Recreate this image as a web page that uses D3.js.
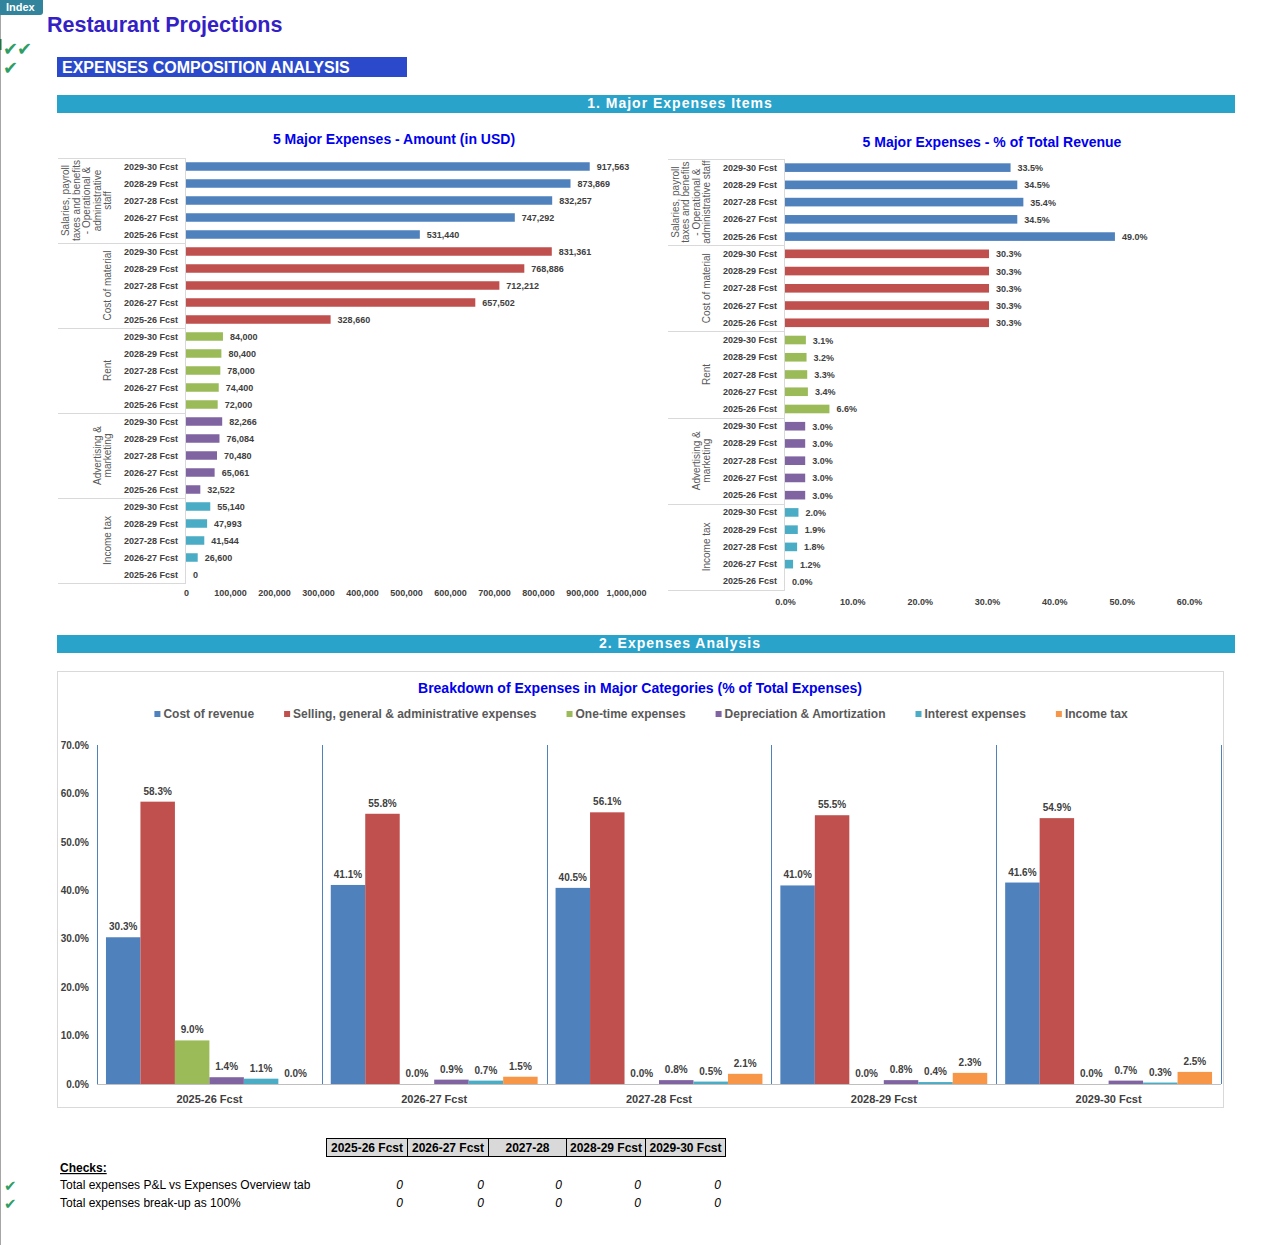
<!DOCTYPE html>
<meta charset="utf-8">
<script src="https://d3js.org/d3.v7.min.js"></script>
<style>
  body { margin: 0; background: #fff; }
  svg text { font-family: "Liberation Sans", Arial, sans-serif; }
</style>
<div id="page"></div>
<script>
// ---- data ----
var years = ["2029-30 Fcst", "2028-29 Fcst", "2027-28 Fcst", "2026-27 Fcst", "2025-26 Fcst"];
var expenseGroups = ["Salaries", "Cost of material", "Rent", "Advertising", "Income tax"];

// amounts in USD, same order as years
var amountSalaries = [917563, 873869, 832257, 747292, 531440];
var amountMaterial = [831361, 768886, 712212, 657502, 328660];
var amountRent = [84000, 80400, 78000, 74400, 72000];
var amountAdvertising = [82266, 76084, 70480, 65061, 32522];
var amountIncomeTax = [55140, 47993, 41544, 26600, 0];

// % of total revenue, same order as years
var pctSalaries = [33.5, 34.5, 35.4, 34.5, 49.0];
var pctMaterial = [30.3, 30.3, 30.3, 30.3, 30.3];
var pctRent = [3.1, 3.2, 3.3, 3.4, 6.6];
var pctAdvertising = [3.0, 3.0, 3.0, 3.0, 3.0];
var pctIncomeTax = [2.0, 1.9, 1.8, 1.2, 0.0];

var amountTicks = [0, 100000, 200000, 300000, 400000, 500000, 600000, 700000, 800000, 900000, 1000000];
var pctTicks = [0, 10, 20, 30, 40, 50, 60];

// breakdown chart (% of total expenses)
var periods = ["2025-26 Fcst", "2026-27 Fcst", "2027-28 Fcst", "2028-29 Fcst", "2029-30 Fcst"];
var seriesNames = ["Cost of revenue", "Selling, general & administrative expenses", "One-time expenses",
                   "Depreciation & Amortization", "Interest expenses", "Income tax"];
var costOfRevenue = [30.3, 41.1, 40.5, 41.0, 41.6];
var sgaExpenses = [58.3, 55.8, 56.1, 55.5, 54.9];
var oneTimeExpenses = [9.0, 0.0, 0.0, 0.0, 0.0];
var depreciation = [1.4, 0.9, 0.8, 0.8, 0.7];
var interestExpenses = [1.1, 0.7, 0.5, 0.4, 0.3];
var incomeTax = [0.0, 1.5, 2.1, 2.3, 2.5];
var breakdownTicks = [0, 10, 20, 30, 40, 50, 60, 70];

// checks table
var checkHeaders = ["2025-26 Fcst", "2026-27 Fcst", "2027-28", "2028-29 Fcst", "2029-30 Fcst"];
var checkRows = ["Total expenses P&L vs Expenses Overview tab", "Total expenses break-up as 100%"];
var checkValues = [[0, 0, 0, 0, 0], [0, 0, 0, 0, 0]];

var groupColors = ["#4F81BD", "#C0504D", "#9BBB59", "#8064A2", "#4BACC6", "#F79646"];

// ---- page ----
var W = 1279, H = 1245;
var svg = d3.select("#page").append("svg").attr("width", W).attr("height", H);

// left edge line + index tab
svg.append("line").attr("x1", 0.5).attr("x2", 0.5).attr("y1", 14).attr("y2", H)
  .attr("stroke", "#A6A6A6");
svg.append("line").attr("x1", 0.5).attr("x2", 0.5).attr("y1", 39).attr("y2", 50)
  .attr("stroke", "#217346").attr("stroke-width", 2);
svg.append("path").attr("d", "M0,0 H43 V12 Q43,15 40,15 H0 Z").attr("fill", "#31849B");
svg.append("text").attr("x", 6).attr("y", 11).attr("fill", "#fff")
  .attr("font-size", 11).attr("font-weight", "bold").text("Index");

svg.append("text").attr("x", 47).attr("y", 32).attr("fill", "#3421C6")
  .attr("font-size", 21.5).attr("font-weight", "bold").text("Restaurant Projections");

function tick(x, y, size) {
  svg.append("text").attr("x", x).attr("y", y).attr("fill", "#2E9E64")
    .attr("font-size", size)
    .style("font-family", "DejaVu Sans").text("\u2714");
}
tick(3, 55, 18); tick(17, 55, 18); tick(3, 74, 18);

svg.append("rect").attr("x", 57).attr("y", 57).attr("width", 350).attr("height", 20).attr("fill", "#2B4ACB");
svg.append("text").attr("x", 62).attr("y", 73).attr("fill", "#fff")
  .attr("font-size", 16).attr("font-weight", "bold").text("EXPENSES COMPOSITION ANALYSIS");

function sectionBar(y, label) {
  svg.append("rect").attr("x", 57).attr("y", y).attr("width", 1178).attr("height", 18).attr("fill", "#2AA3CB");
  svg.append("text").attr("x", 680).attr("y", y + 13).attr("text-anchor", "middle").attr("fill", "#fff")
    .attr("font-size", 14).attr("font-weight", "bold").attr("letter-spacing", 1).text(label);
}
sectionBar(95, "1. Major Expenses Items");
sectionBar(635, "2. Expenses Analysis");

// ---- horizontal bar charts ----
function buildRows(lists) {
  var rows = [];
  expenseGroups.forEach(function (g, gi) {
    years.forEach(function (yr, i) {
      rows.push({key: g + "|" + yr, group: gi, year: yr, value: lists[gi][i]});
    });
  });
  return rows;
}

function hbarChart(o) {
  var g = svg.append("g");
  g.append("text").attr("x", o.titleX).attr("y", o.titleY).attr("text-anchor", "middle")
    .attr("fill", "#0000EE").attr("font-size", 14).attr("font-weight", "bold").text(o.title);

  var x = d3.scaleLinear().domain(o.domain).range([o.x0, o.x1]);
  var y = d3.scaleBand().domain(o.rows.map(function (d) { return d.key; }))
    .range([o.top, o.bottom]).paddingInner(0.5).paddingOuter(0.25);
  var groupH = y.step() * years.length;

  // separators in the category area
  d3.range(expenseGroups.length + 1).forEach(function (k) {
    g.append("line").attr("x1", o.labelLeft).attr("x2", o.x0)
      .attr("y1", Math.round(o.top + k * groupH) + 0.5).attr("y2", Math.round(o.top + k * groupH) + 0.5)
      .attr("stroke", "#D9D9D9");
  });
  g.append("line").attr("x1", o.x0 - 0.5).attr("x2", o.x0 - 0.5).attr("y1", o.top).attr("y2", o.bottom)
    .attr("stroke", "#D9D9D9");

  // group labels
  o.groupLabels.forEach(function (lines, gi) {
    var cy = o.top + (gi + 0.5) * groupH;
    lines.forEach(function (ln, li) {
      var bx = o.labelBase - (lines.length - 1 - li) * o.lineGap;
      g.append("text").attr("transform", "translate(" + bx + "," + cy + ") rotate(-90)")
        .attr("text-anchor", "middle").attr("fill", "#595959").attr("font-size", 10).text(ln);
    });
  });

  // year labels
  g.selectAll(".yr").data(o.rows).enter().append("text")
    .attr("x", o.x0 - 8).attr("y", function (d) { return y(d.key) + y.bandwidth() / 2 + 3; })
    .attr("text-anchor", "end").attr("fill", "#404040").attr("font-size", 9).attr("font-weight", "bold")
    .text(function (d) { return d.year; });

  g.selectAll(".bar").data(o.rows).enter().append("rect")
    .attr("x", x(0)).attr("y", function (d) { return y(d.key); })
    .attr("width", function (d) { return x(d.value) - x(0); })
    .attr("height", y.bandwidth())
    .attr("fill", function (d) { return groupColors[d.group]; });

  g.selectAll(".val").data(o.rows).enter().append("text")
    .attr("x", function (d) { return x(d.value) + 7; })
    .attr("y", function (d) { return y(d.key) + y.bandwidth() / 2 + 3.5; })
    .attr("fill", "#404040").attr("font-size", 9).attr("font-weight", "bold")
    .text(function (d) { return o.fmt(d.value); });

  var ax = g.append("g").attr("transform", "translate(0," + o.axisY + ")")
    .call(d3.axisBottom(x).tickValues(o.ticks).tickSize(0).tickFormat(o.tickFmt));
  ax.select(".domain").remove();
  ax.selectAll("text").attr("fill", "#404040").attr("font-size", 9).attr("font-weight", "bold")
    .style("font-family", "Liberation Sans, Arial, sans-serif");
}

hbarChart({
  title: "5 Major Expenses - Amount (in USD)", titleX: 394, titleY: 144,
  rows: buildRows([amountSalaries, amountMaterial, amountRent, amountAdvertising, amountIncomeTax]),
  domain: [0, 1000000], x0: 186, x1: 626, top: 158, bottom: 583, labelLeft: 58,
  labelBase: 111, lineGap: 10.5, axisY: 587,
  groupLabels: [["Salaries, payroll", "taxes and benefits", "- Operational &", "administrative", "staff"],
                ["Cost of material"], ["Rent"], ["Advertising &", "marketing"], ["Income tax"]],
  fmt: d3.format(","), ticks: amountTicks, tickFmt: d3.format(",")
});

hbarChart({
  title: "5 Major Expenses - % of Total Revenue", titleX: 992, titleY: 147,
  rows: buildRows([pctSalaries, pctMaterial, pctRent, pctAdvertising, pctIncomeTax]),
  domain: [0, 60], x0: 785, x1: 1189, top: 159, bottom: 590, labelLeft: 668,
  labelBase: 710, lineGap: 10.5, axisY: 596,
  groupLabels: [["Salaries, payroll", "taxes and benefits", "- Operational &", "administrative staff"],
                ["Cost of material"], ["Rent"], ["Advertising &", "marketing"], ["Income tax"]],
  fmt: function (v) { return v.toFixed(1) + "%"; }, ticks: pctTicks,
  tickFmt: function (v) { return v.toFixed(1) + "%"; }
});

// ---- breakdown column chart ----
var bd = svg.append("g");
bd.append("rect").attr("x", 57.5).attr("y", 671.5).attr("width", 1166).attr("height", 436)
  .attr("fill", "none").attr("stroke", "#D9D9D9");
bd.append("text").attr("x", 640).attr("y", 693).attr("text-anchor", "middle").attr("fill", "#0000EE")
  .attr("font-size", 14).attr("font-weight", "bold")
  .text("Breakdown of Expenses in Major Categories (% of Total Expenses)");

// legend
var leg = bd.append("g");
var lx = 0;
seriesNames.forEach(function (s, i) {
  var it = leg.append("g").attr("transform", "translate(" + lx + ",0)");
  it.append("rect").attr("x", 0).attr("y", 711).attr("width", 6).attr("height", 6).attr("fill", groupColors[i]);
  var t = it.append("text").attr("x", 9).attr("y", 718).attr("fill", "#595959")
    .attr("font-size", 12).attr("font-weight", "bold").text(s);
  lx += 9 + t.node().getComputedTextLength() + 30;
});
leg.attr("transform", "translate(" + (641 - (lx - 30) / 2) + ",0)");

var breakdownSeries = [costOfRevenue, sgaExpenses, oneTimeExpenses, depreciation, interestExpenses, incomeTax];
var bx0 = d3.scaleBand().domain(periods).range([97, 1221]);
var bx1 = d3.scaleBand().domain(seriesNames).range([0, bx0.bandwidth()]).paddingOuter(0.26);
var by = d3.scaleLinear().domain([0, 70]).range([1084, 745]);

var yAx = bd.append("g").attr("transform", "translate(89,0)")
  .call(d3.axisLeft(by).tickValues(breakdownTicks).tickSize(0).tickFormat(function (v) { return v.toFixed(1) + "%"; }));
yAx.select(".domain").remove();
yAx.selectAll("text").attr("fill", "#404040").attr("font-size", 10).attr("font-weight", "bold")
  .attr("x", 0).style("font-family", "Liberation Sans, Arial, sans-serif");

// group boundary lines
periods.concat(["end"]).forEach(function (p, i) {
  var xx = Math.round(97 + i * bx0.step()) + 0.5;
  bd.append("line").attr("x1", xx).attr("x2", xx).attr("y1", 745).attr("y2", 1084).attr("stroke", "#4F81BD");
});

var cells = [];
periods.forEach(function (p, pi) {
  seriesNames.forEach(function (s, si) {
    cells.push({period: p, series: s, si: si, value: breakdownSeries[si][pi]});
  });
});

bd.selectAll(".col").data(cells).enter().append("rect")
  .attr("x", function (d) { return bx0(d.period) + bx1(d.series); })
  .attr("y", function (d) { return by(d.value); })
  .attr("width", bx1.bandwidth())
  .attr("height", function (d) { return by(0) - by(d.value); })
  .attr("fill", function (d) { return groupColors[d.si]; });

bd.selectAll(".lbl").data(cells).enter().append("text")
  .attr("x", function (d) { return bx0(d.period) + bx1(d.series) + bx1.bandwidth() / 2; })
  .attr("y", function (d) { return by(d.value) - 7; })
  .attr("text-anchor", "middle").attr("fill", "#404040").attr("font-size", 10).attr("font-weight", "bold")
  .text(function (d) { return d.value.toFixed(1) + "%"; });

bd.append("line").attr("x1", 97).attr("x2", 1221).attr("y1", 1084.5).attr("y2", 1084.5).attr("stroke", "#BFBFBF");

var xAx = bd.append("g").attr("transform", "translate(0,1092)")
  .call(d3.axisBottom(bx0).tickSize(0));
xAx.select(".domain").remove();
xAx.selectAll("text").attr("fill", "#404040").attr("font-size", 11).attr("font-weight", "bold")
  .style("font-family", "Liberation Sans, Arial, sans-serif");

// ---- checks table ----
var colEdges = [326, 407, 488, 566, 645, 725];
checkHeaders.forEach(function (h, i) {
  svg.append("rect").attr("x", colEdges[i] + 0.5).attr("y", 1138.5)
    .attr("width", colEdges[i + 1] - colEdges[i]).attr("height", 18)
    .attr("fill", "#D9D9D9").attr("stroke", "#000");
  svg.append("text").attr("x", (colEdges[i] + colEdges[i + 1]) / 2 + 0.5).attr("y", 1152)
    .attr("text-anchor", "middle").attr("fill", "#000").attr("font-size", 12).attr("font-weight", "bold").text(h);
});
svg.append("text").attr("x", 60).attr("y", 1172).attr("font-size", 12).attr("font-weight", "bold")
  .attr("text-decoration", "underline").attr("fill", "#000").text("Checks:");
checkRows.forEach(function (r, ri) {
  var yy = 1189 + ri * 18;
  tick(4, yy + 2, 15);
  svg.append("text").attr("x", 60).attr("y", yy).attr("font-size", 12).attr("fill", "#000").text(r);
  checkValues[ri].forEach(function (v, ci) {
    svg.append("text").attr("x", colEdges[ci + 1] - 4).attr("y", yy).attr("text-anchor", "end")
      .attr("font-size", 12).attr("font-style", "italic").attr("fill", "#000").text(v);
  });
});
</script>
